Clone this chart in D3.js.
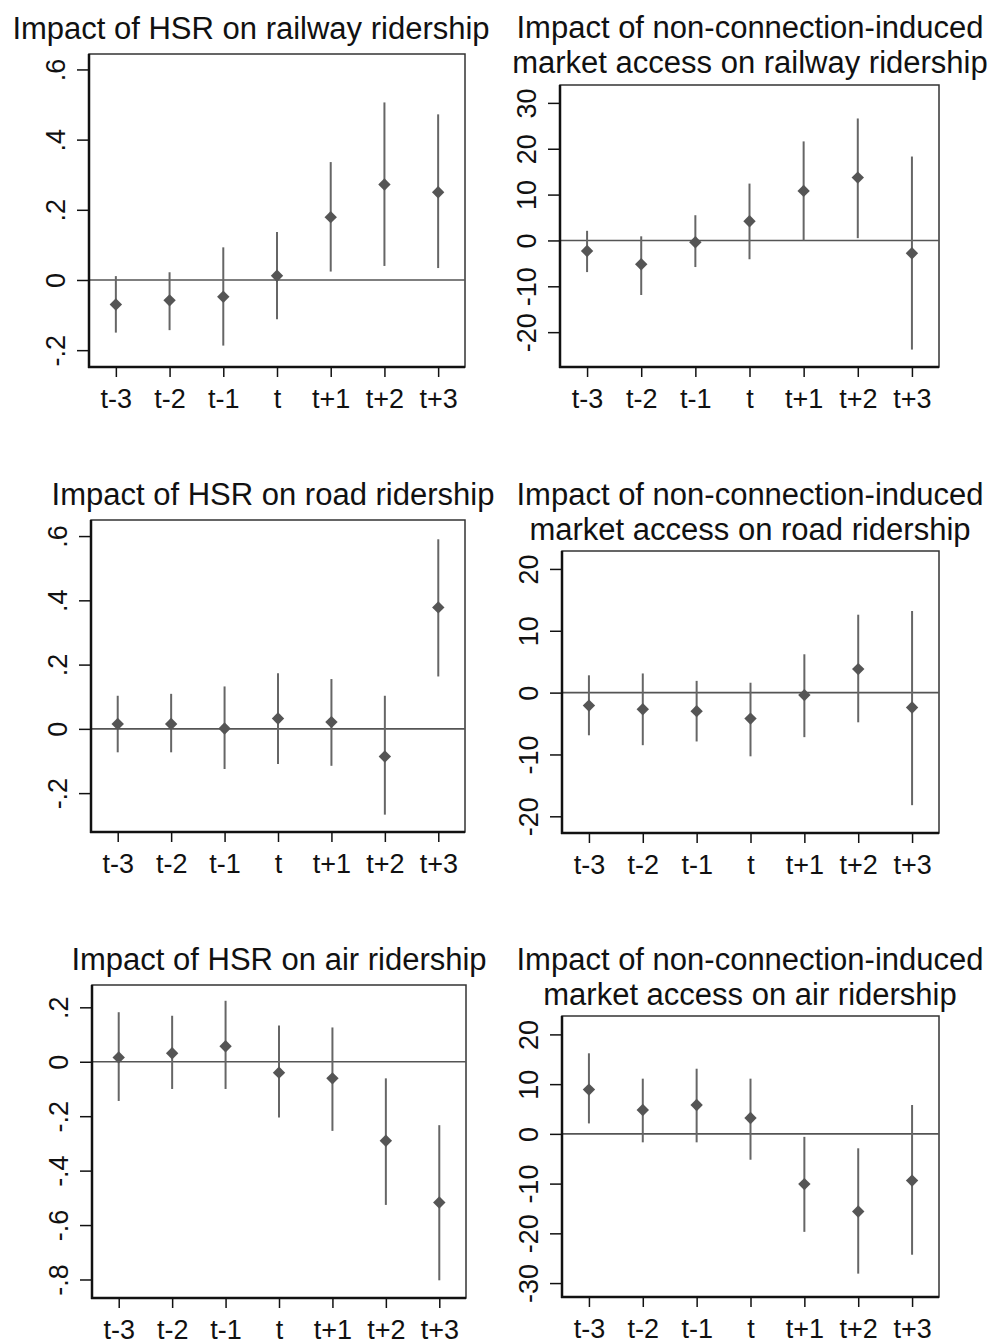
<!DOCTYPE html>
<html>
<head>
  <meta charset="utf-8">
  <title>Event study panels</title>
  <script src="https://d3js.org/d3.v7.min.js"></script>
  <style>
    html, body {
      margin: 0;
      padding: 0;
      background: #fff;
      overflow: hidden;
    }
    svg {
      display: block;
      font-family: "Liberation Sans", Arial, sans-serif;
    }
  </style>
</head>
<body>
  <svg></svg>
  <script>
    var width = 991, height = 1343;

    // event time categories
    const periods = ["t-3", "t-2", "t-1", "t", "t+1", "t+2", "t+3"];

    // titles (one array of lines per panel)
    const titles = [
      ["Impact of HSR on railway ridership"],
      ["Impact of non-connection-induced", "market access on railway ridership"],
      ["Impact of HSR on road ridership"],
      ["Impact of non-connection-induced", "market access on road ridership"],
      ["Impact of HSR on air ridership"],
      ["Impact of non-connection-induced", "market access on air ridership"]
    ];

    // HSR -> railway
    const railHsrEst = [-0.070, -0.058, -0.048, 0.012, 0.179, 0.272, 0.250];
    const railHsrLo  = [-0.150, -0.143, -0.187, -0.112, 0.024, 0.040, 0.034];
    const railHsrHi  = [0.011, 0.022, 0.093, 0.137, 0.336, 0.506, 0.472];
    // market access -> railway
    const railMaEst = [-2.3, -5.2, -0.4, 4.2, 10.8, 13.7, -2.8];
    const railMaLo  = [-6.9, -11.9, -5.8, -4.1, 0.0, 0.5, -23.8];
    const railMaHi  = [2.1, 0.9, 5.5, 12.4, 21.6, 26.6, 18.3];
    // HSR -> road
    const roadHsrEst = [0.015, 0.015, 0.001, 0.032, 0.021, -0.086, 0.378];
    const roadHsrLo  = [-0.073, -0.073, -0.125, -0.109, -0.115, -0.267, 0.163];
    const roadHsrHi  = [0.103, 0.109, 0.132, 0.173, 0.155, 0.103, 0.590];
    // market access -> road
    const roadMaEst = [-2.1, -2.7, -3.0, -4.2, -0.4, 3.8, -2.4];
    const roadMaLo  = [-6.9, -8.5, -7.9, -10.3, -7.2, -4.8, -18.2];
    const roadMaHi  = [2.8, 3.1, 1.9, 1.6, 6.2, 12.6, 13.2];
    // HSR -> air
    const airHsrEst = [0.016, 0.031, 0.057, -0.040, -0.061, -0.290, -0.517];
    const airHsrLo  = [-0.144, -0.100, -0.100, -0.205, -0.254, -0.526, -0.803];
    const airHsrHi  = [0.182, 0.169, 0.224, 0.133, 0.126, -0.061, -0.233];
    // market access -> air
    const airMaEst = [8.9, 4.8, 5.8, 3.2, -10.1, -15.6, -9.4];
    const airMaLo  = [2.1, -1.7, -1.7, -5.2, -19.7, -28.1, -24.3];
    const airMaHi  = [16.2, 11.1, 13.1, 11.1, -0.6, -2.9, 5.8];

    // y tick values
    const ticksHsrRail = [-0.2, 0, 0.2, 0.4, 0.6];
    const ticksMaRail  = [-20, -10, 0, 10, 20, 30];
    const ticksHsrRoad = [-0.2, 0, 0.2, 0.4, 0.6];
    const ticksMaRoad  = [-20, -10, 0, 10, 20];
    const ticksHsrAir  = [-0.8, -0.6, -0.4, -0.2, 0, 0.2];
    const ticksMaAir   = [-30, -20, -10, 0, 10, 20];

    const series = [
      {est: railHsrEst, lo: railHsrLo, hi: railHsrHi, ticks: ticksHsrRail},
      {est: railMaEst, lo: railMaLo, hi: railMaHi, ticks: ticksMaRail},
      {est: roadHsrEst, lo: roadHsrLo, hi: roadHsrHi, ticks: ticksHsrRoad},
      {est: roadMaEst, lo: roadMaLo, hi: roadMaHi, ticks: ticksMaRoad},
      {est: airHsrEst, lo: airHsrLo, hi: airHsrHi, ticks: ticksHsrAir},
      {est: airMaEst, lo: airMaLo, hi: airMaHi, ticks: ticksMaAir}
    ];

    // layout: plot frame, axis range and title placement per panel
    const layout = [
      {l: 89,  t: 54,  r: 465, b: 367,  ymin: -0.248, ymax: 0.644, tx: 251, ty: 39},
      {l: 560, t: 85,  r: 939, b: 367,  ymin: -27.6,  ymax: 33.9,  tx: 750, ty: 38},
      {l: 91,  t: 520, r: 465, b: 832,  ymin: -0.321, ymax: 0.650, tx: 273, ty: 505},
      {l: 562, t: 551, r: 939, b: 833,  ymin: -22.7,  ymax: 22.9,  tx: 750, ty: 505},
      {l: 92,  t: 985, r: 466, b: 1298, ymin: -0.868, ymax: 0.282, tx: 279, ty: 970},
      {l: 562, t: 1016, r: 939, b: 1297, ymin: -32.8, ymax: 23.7,  tx: 750, ty: 970}
    ];

    var svg = d3.select("svg").attr("width", width).attr("height", height);

    // Stata style labels: ".6", "-.2", "0", "-20"
    function fmtTick(v) {
      if (v === 0) return "0";
      if (Math.abs(v) < 1) {
        var s = Math.abs(v).toFixed(1).replace("0.", ".");
        return (v < 0 ? "-" : "") + s;
      }
      return String(v);
    }

    series.forEach(function (s, i) {
      var L = layout[i];
      var g = svg.append("g");

      var x = d3.scalePoint().domain(periods).range([L.l, L.r]).padding(0.5);
      var y = d3.scaleLinear().domain([L.ymin, L.ymax]).range([L.b, L.t]);

      // title
      var title = g.append("text")
        .attr("x", L.tx)
        .attr("y", L.ty)
        .attr("text-anchor", "middle")
        .attr("font-size", 31)
        .attr("fill", "#111");
      titles[i].forEach(function (line, k) {
        title.append("tspan")
          .attr("x", L.tx)
          .attr("dy", k === 0 ? 0 : 34.5)
          .text(line);
      });

      // plot region outline
      g.append("rect")
        .attr("x", L.l).attr("y", L.t)
        .attr("width", L.r - L.l).attr("height", L.b - L.t)
        .attr("fill", "none")
        .attr("stroke", "#333")
        .attr("stroke-width", 1.5);

      // zero line
      g.append("line")
        .attr("x1", L.l).attr("x2", L.r)
        .attr("y1", y(0)).attr("y2", y(0))
        .attr("stroke", "#555")
        .attr("stroke-width", 1.6);

      // y axis
      var yAxis = g.append("g")
        .attr("transform", "translate(" + L.l + ",0)")
        .call(d3.axisLeft(y).tickValues(s.ticks).tickFormat(fmtTick).tickSize(12));
      yAxis.select(".domain").remove();
      yAxis.selectAll(".tick line").attr("stroke", "#111").attr("stroke-width", 1.5);
      yAxis.selectAll(".tick text")
        .attr("x", 0).attr("dy", 0)
        .attr("transform", "translate(-24,0) rotate(-90)")
        .attr("text-anchor", "middle")
        .attr("font-size", 27)
        .attr("font-family", "Liberation Sans, Arial, sans-serif")
        .attr("fill", "#111");

      // x axis
      var xAxis = g.append("g")
        .attr("transform", "translate(0," + L.b + ")")
        .call(d3.axisBottom(x).tickSize(10));
      xAxis.select(".domain").remove();
      xAxis.selectAll(".tick line").attr("stroke", "#111").attr("stroke-width", 1.5);
      xAxis.selectAll(".tick text")
        .attr("y", 41).attr("dy", 0)
        .attr("font-size", 27)
        .attr("font-family", "Liberation Sans, Arial, sans-serif")
        .attr("fill", "#111");

      // axis lines (heavier on left and bottom)
      g.append("line")
        .attr("x1", L.l).attr("x2", L.l)
        .attr("y1", L.t).attr("y2", L.b + 1)
        .attr("stroke", "#111").attr("stroke-width", 2.5);
      g.append("line")
        .attr("x1", L.l - 1).attr("x2", L.r)
        .attr("y1", L.b).attr("y2", L.b)
        .attr("stroke", "#111").attr("stroke-width", 2.5);

      // confidence intervals
      g.append("g")
        .selectAll("line")
        .data(periods)
        .join("line")
        .attr("x1", d => x(d)).attr("x2", d => x(d))
        .attr("y1", (d, k) => y(s.lo[k]))
        .attr("y2", (d, k) => y(s.hi[k]))
        .attr("stroke", "#666")
        .attr("stroke-width", 2);

      // point estimates (diamonds)
      var dm = 6.2;
      g.append("g")
        .selectAll("path")
        .data(periods)
        .join("path")
        .attr("transform", (d, k) => "translate(" + x(d) + "," + y(s.est[k]) + ")")
        .attr("d", "M0," + (-dm) + "L" + dm + ",0L0," + dm + "L" + (-dm) + ",0Z")
        .attr("fill", "#555");
    });
  </script>
</body>
</html>
